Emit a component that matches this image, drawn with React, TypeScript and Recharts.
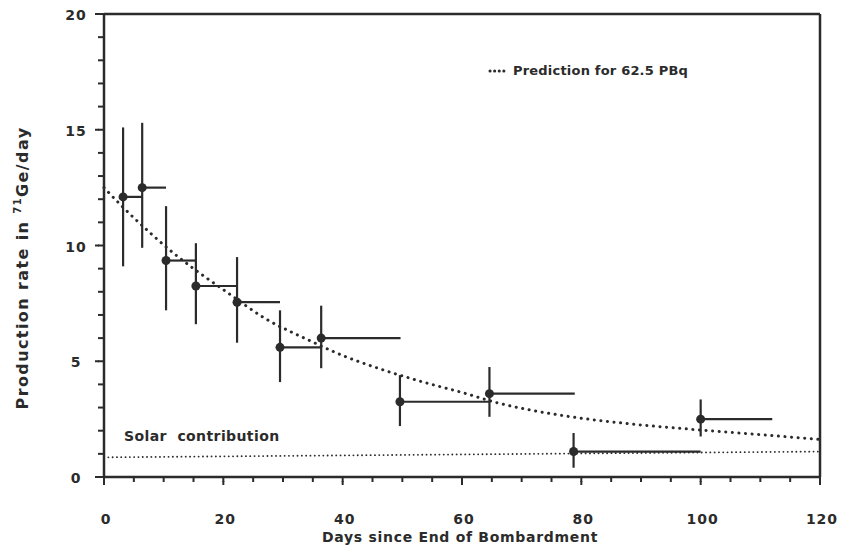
import React from 'react';
import { ComposedChart, Scatter, Line, XAxis, YAxis, ErrorBar } from 'recharts';

// measured runs: start day, end of exposure interval, rate and its 1-sigma range
const days = [3.2, 6.4, 10.4, 15.4, 22.3, 29.5, 36.4, 49.6, 64.6, 78.7, 100];
const dayEnd = [6.4, 10.4, 15.4, 22.3, 29.5, 36.4, 49.7, 64.6, 78.9, 100, 112];
const rate = [12.1, 12.5, 9.35, 8.25, 7.55, 5.6, 6.0, 3.25, 3.6, 1.1, 2.5];
const rateLow = [9.1, 9.9, 7.2, 6.6, 5.8, 4.1, 4.7, 2.2, 2.6, 0.4, 1.75];
const rateHigh = [15.1, 15.3, 11.7, 10.1, 9.5, 7.2, 7.4, 4.4, 4.75, 1.9, 3.35];

// prediction curve for 62.5 PBq
const predDays = [0, 3, 7.5, 11.5, 14.5, 20.5, 27, 34, 40, 46.5, 53.5, 60, 66, 77, 88, 99, 110, 120];
const predRate = [12.5, 11.7, 10.6, 9.7, 9.1, 8.0, 6.85, 5.95, 5.25, 4.65, 4.1, 3.65, 3.2, 2.65, 2.3, 2.05, 1.83, 1.62];

// solar neutrino contribution
const solarDays = [0, 120];
const solarRate = [0.85, 1.1];

const xTicks = [0, 5, 10, 15, 20, 25, 30, 35, 40, 45, 50, 55, 60, 65, 70, 75, 80, 85, 90, 95, 100, 105, 110, 115, 120];
const yTicks = [0, 1, 2, 3, 4, 5, 6, 7, 8, 9, 10, 11, 12, 13, 14, 15, 16, 17, 18, 19, 20];

const ink = '#2b2b2b';
const font = '"DejaVu Sans", Verdana, sans-serif';

const runs = days.map((d, i) => ({
  x: d,
  y: rate[i],
  ex: [0, dayEnd[i] - d],
  ey: [rate[i] - rateLow[i], rateHigh[i] - rate[i]],
}));
const pred = predDays.map((d, i) => ({ x: d, y: predRate[i] }));
const solar = solarDays.map((d, i) => ({ x: d, y: solarRate[i] }));

// tickSize is 5, so y here is 5px below the axis line
const XTick = (props: any) => {
  const { x, y, payload } = props;
  if (payload.value % 20 !== 0) return <g />;
  return (
    <g>
      <path d={`M${x},${y - 1}V${y + 3}`} stroke={ink} strokeWidth={2} />
      <text x={x + 2} y={y + 42} textAnchor="middle" fill={ink} fontFamily={font} fontWeight={700} fontSize={14} letterSpacing={1}>
        {payload.value}
      </text>
    </g>
  );
};

const YTick = (props: any) => {
  const { x, y, payload } = props;
  if (payload.value % 5 !== 0) return <g />;
  return (
    <g>
      <path d={`M${x + 1},${y}H${x - 3}`} stroke={ink} strokeWidth={2} />
      <text x={x - 22} y={y + 6} textAnchor="middle" fill={ink} fontFamily={font} fontWeight={700} fontSize={14} letterSpacing={1}>
        {payload.value}
      </text>
    </g>
  );
};

const RightTick = (props: any) => {
  const { x, y, payload } = props;
  if (payload.value % 5 !== 0) return <g />;
  return <path d={`M${x - 1},${y}H${x + 3}`} stroke={ink} strokeWidth={2} />;
};

export default function App() {
  return (
    <div style={{ position: 'absolute', left: 0, top: 0, width: 847, height: 552, background: '#fff', fontFamily: font }}>
      <ComposedChart width={847} height={552} margin={{ top: 0, right: 0, bottom: 0, left: 0 }}>
        <XAxis xAxisId="b" dataKey="x" type="number" domain={[0, 120]} ticks={xTicks} interval={0}
          height={75} tickSize={5} tickMargin={0} tickLine={{ stroke: ink, strokeWidth: 2 }} tick={<XTick />}
          axisLine={{ stroke: ink, strokeWidth: 2.5 }} />
        <XAxis xAxisId="t" dataKey="x" orientation="top" type="number" domain={[0, 120]}
          height={14} tick={false} tickLine={false} axisLine={{ stroke: ink, strokeWidth: 2.5 }} />
        <YAxis yAxisId="l" type="number" domain={[0, 20]} ticks={yTicks} interval={0}
          width={104} tickSize={6} tickMargin={0} tickLine={{ stroke: ink, strokeWidth: 2 }} tick={<YTick />}
          axisLine={{ stroke: ink, strokeWidth: 2.5 }} />
        <YAxis yAxisId="r" orientation="right" type="number" domain={[0, 20]} ticks={yTicks} interval={0}
          width={27} tickSize={6} tickMargin={0} tickLine={{ stroke: ink, strokeWidth: 2 }} tick={<RightTick />}
          axisLine={{ stroke: ink, strokeWidth: 2.5 }} />
        <Line xAxisId="b" yAxisId="l" data={solar} dataKey="y" type="linear" stroke={ink} strokeWidth={1.8}
          strokeDasharray="0.1 4.2" strokeLinecap="round" dot={false} isAnimationActive={false} />
        <Line xAxisId="b" yAxisId="l" data={pred} dataKey="y" name="Prediction for 62.5 PBq" type="monotone"
          stroke={ink} strokeWidth={3} strokeDasharray="0.1 6.5" strokeLinecap="round" dot={false} isAnimationActive={false} />
        <Scatter xAxisId="b" yAxisId="l" data={runs} dataKey="y" fill={ink} isAnimationActive={false}
          shape={(p: any) => <circle cx={p.cx} cy={p.cy} r={4.5} fill={ink} />}>
          <ErrorBar dataKey="ey" direction="y" width={0} stroke={ink} strokeWidth={2.2} isAnimationActive={false} />
          <ErrorBar dataKey="ex" direction="x" width={0} stroke={ink} strokeWidth={2.2} isAnimationActive={false} />
        </Scatter>
      </ComposedChart>
      <div style={{ position: 'absolute', left: 488, top: 63, display: 'flex', alignItems: 'center', whiteSpace: 'nowrap', fontWeight: 700, fontSize: 13, color: ink, letterSpacing: 0.2 }}>
        <svg width={22} height={6} style={{ marginRight: 3 }}>
          <line x1={2} x2={20} y1={3} y2={3} stroke={ink} strokeWidth={3} strokeDasharray="0.1 4.5" strokeLinecap="round" />
        </svg>
        Prediction for 62.5 PBq
      </div>
      <div style={{ position: 'absolute', left: 22, top: 268, transform: 'translate(-50%, -50%) rotate(-90deg)', whiteSpace: 'nowrap', fontWeight: 700, fontSize: 16, color: ink, letterSpacing: 1.4 }}>
        Production rate in <sup style={{ fontSize: 10 }}>71</sup>Ge/day
      </div>
      <div style={{ position: 'absolute', left: 460, top: 537, transform: 'translate(-50%, -50%)', whiteSpace: 'nowrap', fontWeight: 700, fontSize: 14, color: ink, letterSpacing: 0.7 }}>
        Days since End of Bombardment
      </div>
      <div style={{ position: 'absolute', left: 124, top: 436, transform: 'translateY(-50%)', whiteSpace: 'nowrap', fontWeight: 700, fontSize: 14, color: ink, letterSpacing: 0.4 }}>
        Solar&nbsp; contribution
      </div>
    </div>
  );
}
